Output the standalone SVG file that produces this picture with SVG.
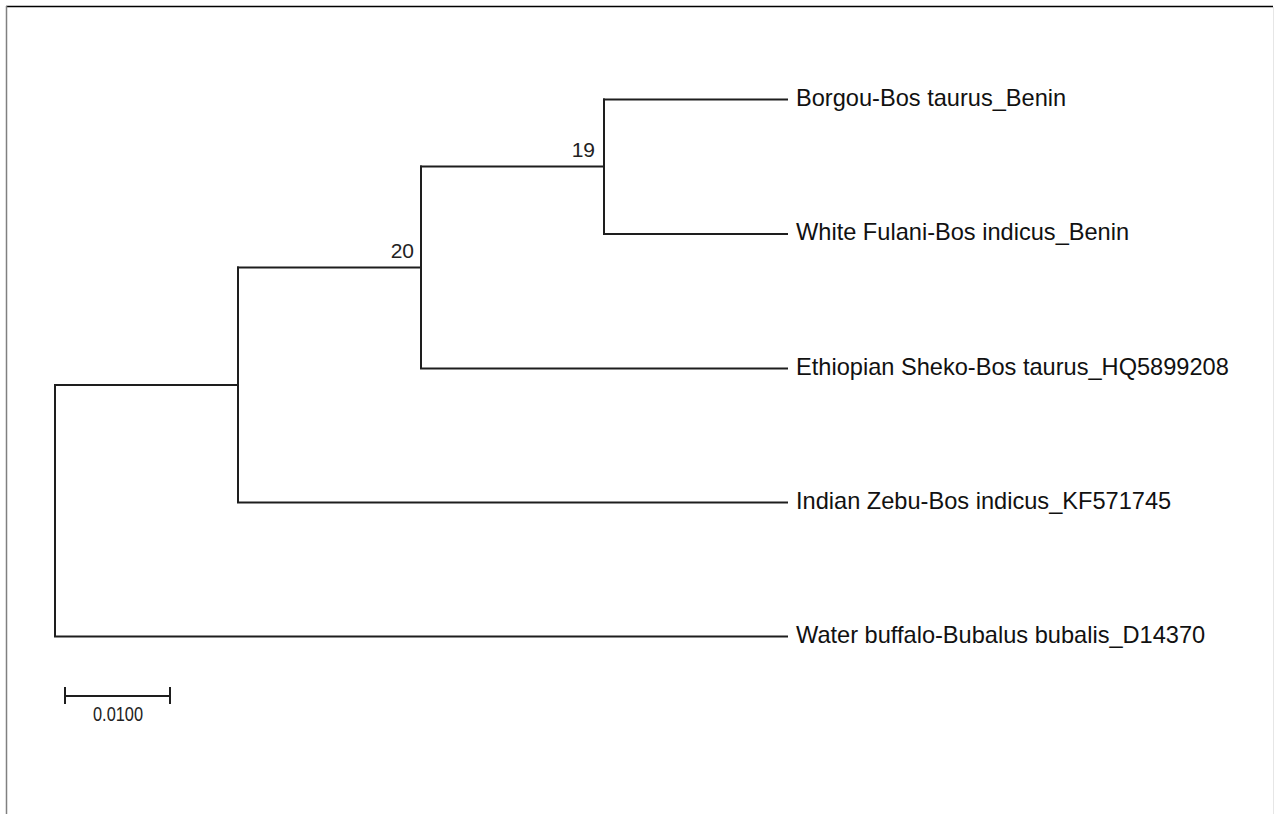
<svg xmlns="http://www.w3.org/2000/svg" width="1274" height="814" viewBox="0 0 1274 814">
<style>
.br{fill:none;stroke:#1e1e1e;stroke-width:2;stroke-linecap:square}
.lbl{font-family:"Liberation Sans",Arial,sans-serif;font-size:23.6px;fill:#111}
.bs{font-family:"Liberation Sans",Arial,sans-serif;font-size:21px;fill:#222;text-anchor:end}
.sc{font-family:"Liberation Sans",Arial,sans-serif;font-size:20.5px;fill:#222;text-anchor:middle}
</style>
<rect x="0" y="0" width="1274" height="814" fill="#ffffff"/>
<g id="frame">
<line x1="6" y1="6.5" x2="1273" y2="6.5" stroke="#000" stroke-width="1.5"/>
<line x1="6.5" y1="6" x2="6.5" y2="814" stroke="#808080" stroke-width="1.5"/>
<line x1="1273.5" y1="7" x2="1273.5" y2="814" stroke="#e6e6e6" stroke-width="1"/>
</g>
<g id="connectors">
<path class="br" d="M55,385 V636.5 H787"/>
<path class="br" d="M55,385 H238"/>
<path class="br" d="M238,267.5 V502.5 H787"/>
<path class="br" d="M238,267.5 H421"/>
<path class="br" d="M421,166.5 V368.5 H787"/>
<path class="br" d="M421,166.5 H604"/>
<path class="br" d="M604,99.5 V234 H787"/>
<path class="br" d="M604,99.5 H787"/>
</g>
<g id="node-borgou"><text class="lbl" x="796" y="105.5">Borgou-Bos taurus_Benin</text></g>
<g id="node-whitefulani"><text class="lbl" x="796" y="240">White Fulani-Bos indicus_Benin</text></g>
<g id="node-ethiopian"><text class="lbl" x="796" y="374.5">Ethiopian Sheko-Bos taurus_HQ5899208</text></g>
<g id="node-indianzebu"><text class="lbl" x="796" y="508.5">Indian Zebu-Bos indicus_KF571745</text></g>
<g id="node-waterbuffalo"><text class="lbl" x="796" y="642.5">Water buffalo-Bubalus bubalis_D14370</text></g>
<g id="node-19"><text class="bs" x="595" y="156.5">19</text></g>
<g id="node-20"><text class="bs" x="414" y="257.5">20</text></g>
<g id="scale-bar">
<path class="br" d="M65,696 H170 M65,688 V703 M170,688 V703" stroke-linecap="butt"/>
<text class="sc" x="118" y="721" textLength="50" lengthAdjust="spacingAndGlyphs">0.0100</text>
</g>
</svg>
